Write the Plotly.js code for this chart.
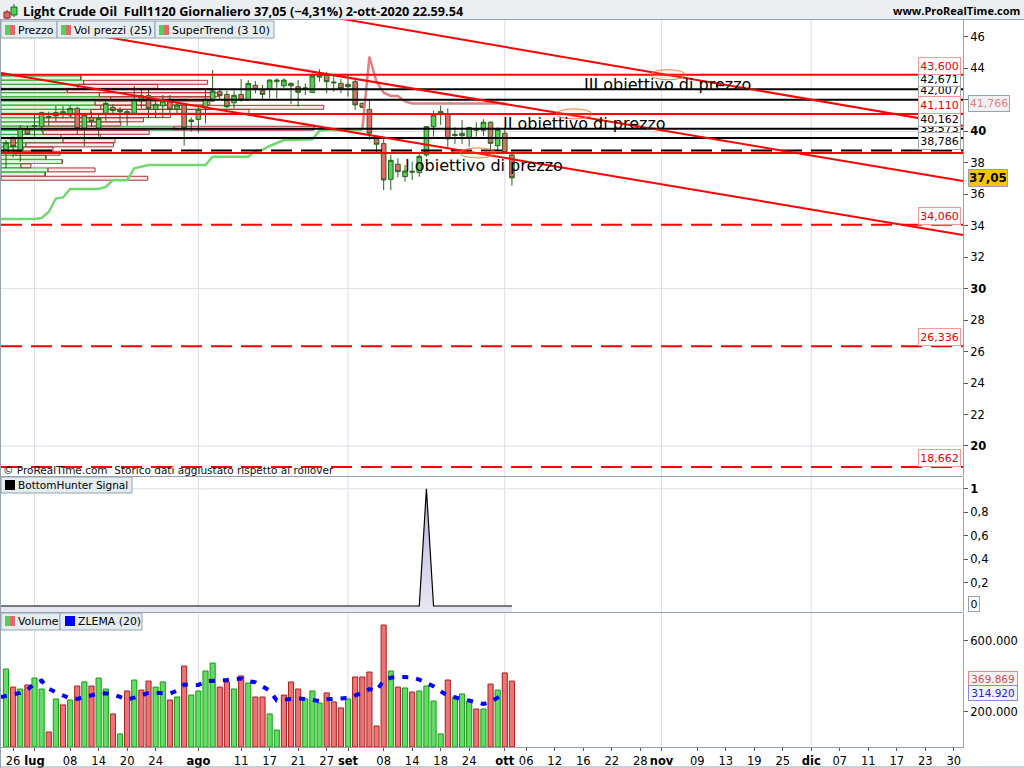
<!DOCTYPE html>
<html><head><meta charset="utf-8">
<script src="https://cdn.plot.ly/plotly-3.0.1.min.js"></script>
<style>html,body{margin:0;padding:0;background:#fff;overflow:hidden}#c{width:1024px;height:768px}</style>
</head><body><div id="c"></div>
<script>
// ---- candles (one row per trading day) ----
const opens =[38.65,39.62,38.71,40.09,40.32,40.30,40.89,41.19,41.10,41.04,41.46,40.19,40.89,40.19,41.15,41.53,41.36,41.15,41.15,41.93,42.27,41.40,41.63,41.95,41.42,41.67,40.62,40.76,41.53,41.93,42.52,42.35,41.82,42.35,41.99,42.93,42.59,42.67,43.16,42.90,43.05,42.84,42.69,42.48,43.45,43.58,43.14,43.05,42.99,43.16,41.78,41.40,39.54,39.22,36.95,37.91,37.12,37.40,37.38,38.50,40.30,41.15,41.10,39.81,39.88,39.62,40.07,40.07,40.58,39.09,39.88,38.50];
const highs =[39.45,39.66,40.40,40.34,41.04,41.25,41.25,41.61,41.61,41.67,41.57,41.15,41.25,41.04,41.89,41.74,41.53,41.36,42.88,42.73,42.73,41.93,42.31,42.31,41.82,41.78,40.89,41.67,42.63,43.90,42.73,42.59,42.59,43.33,43.26,43.20,42.95,43.31,43.37,43.37,43.12,43.26,43.05,43.69,43.94,43.79,43.58,43.33,43.58,43.37,41.83,42.00,39.56,39.50,38.50,38.29,37.86,38.08,38.71,40.34,41.32,41.64,41.47,40.26,40.72,40.30,40.58,40.77,40.62,40.26,40.26,38.56];
const lows  =[37.65,38.35,38.07,39.77,39.66,39.98,40.34,40.62,40.83,40.93,39.81,39.07,40.30,39.66,40.68,41.04,40.55,40.34,41.04,41.46,40.83,40.83,40.83,41.04,41.04,39.09,39.98,39.92,40.51,41.89,41.99,41.46,41.46,41.89,41.93,42.42,41.99,42.10,42.10,42.73,41.74,41.57,42.31,42.42,43.16,42.42,42.52,42.42,42.21,41.36,41.47,39.45,38.61,36.27,36.27,37.08,36.80,36.91,37.12,38.39,39.66,40.41,38.92,39.20,39.20,39.03,39.66,39.71,38.86,38.82,38.61,36.55];
const closes=[39.28,39.03,40.19,39.81,40.36,41.19,40.93,40.98,41.25,41.46,40.19,41.04,40.62,40.83,41.78,41.32,41.25,41.25,41.99,42.27,41.46,41.72,41.93,41.40,41.67,40.23,40.72,41.40,42.04,42.56,42.27,41.57,42.29,41.99,43.05,42.67,42.35,43.26,43.26,43.26,42.90,42.48,42.76,43.52,43.52,43.16,43.09,42.73,42.84,41.68,41.53,39.88,39.18,36.91,38.16,37.44,37.48,37.46,38.41,40.30,41.04,41.25,39.52,39.75,39.73,40.24,40.13,40.58,39.24,40.13,38.65,37.05];

// ---- SuperTrend ----
const superTrendUpX=[-0.7,0,1,2,3,4,5,6,7,8,9,10,11,12,13,14,15,16,17,18,19,20,21,22,23,24,25,26,27,28,29,30,31,32,33,34,35,36,37,38,39,40,41,42,43,44,45,46,47,48,49,50];
const superTrendUp=[34.43,34.43,34.43,34.43,34.43,34.43,34.49,34.87,35.73,35.80,36.34,36.34,36.34,36.34,36.34,36.47,36.89,36.89,36.89,37.65,37.76,37.86,37.86,37.86,37.86,37.86,37.86,37.86,37.86,37.86,38.39,38.39,38.39,38.39,38.39,38.39,38.77,38.82,39.07,39.28,39.45,39.45,39.45,39.45,39.49,40.04,40.09,40.09,40.09,40.09,40.09,40.09];
const superTrendDownX=[50,51,52,53,54,55,56,57,58,59,60,61,62,63,64,65,66,67,68,69,70];
const superTrendDown=[40.09,44.75,43.16,42.46,42.25,42.25,41.90,41.77,41.77,41.77,41.77,41.77,41.77,41.77,41.77,41.77,41.77,41.77,41.77,41.77,41.77];

// ---- price by volume, 25 rows from the top ----
const vpCenters=[43.39,43.12,42.86,42.59,42.33,42.06,41.80,41.53,41.27,41.00,40.73,40.47,40.20,39.94,39.67,39.41,39.14,38.88,38.61,38.35,38.08,37.81,37.55,37.28,37.02];
const vpBuy =[11.2,11.6,10.8,9.3,13.8,15.4,13.2,14,12.6,9.8,6,5.6,24.3,5.9,8.4,8.7,3.5,3.1,2.1,6.3,8.6,2.8,6.6,6.2,0];
const vpSell=[0,17.4,11.2,20.3,16.8,14,16.1,31.3,22.2,14,14,11.2,19.6,14.9,5.6,7.3,12.3,4.2,6.2,0,0,1.4,6.6,0,20.6];

// ---- levels ----
const redLevels=[43.6,41.11,38.63];
const blackLevels=[42.671,42.007,40.162,39.573];
const blackDashedLevels=[38.786];
const redDashedLevels=[34.06,26.336,18.662];
const tagOrder=[[42.007,"42,007","k"],[39.573,"39,573","k"],[40.162,"40,162","k"],[42.671,"42,671","k"],[38.786,"38,786","k"],[43.6,"43,600","r"],[41.11,"41,110","r"],[34.06,"34,060","r"],[26.336,"26,336","r"],[18.662,"18,662","r"]];

// ---- channel lines [x0,x1],[y0,y1] ----
const channelX=[[47.3,134.3],[13.2,134.3],[-0.7,134.3]];
const channelY=[[47.14,40.36],[46.06,36.85],[43.71,33.41]];

// ---- price targets ----
const targetLabels=["III obiettivo di prezzo","II obiettivo di prezzo","I obiettivo di prezzo"];
const targetX=[80.9,69.4,55.7];
const targetY=[43.01,40.53,37.86];
const targetEllipseX=[92.9,79.7,66.2];
const targetEllipseY=[43.6,41.11,38.63];

// ---- signal ----
const signalValues=[0,0,0,0,0,0,0,0,0,0,0,0,0,0,0,0,0,0,0,0,0,0,0,0,0,0,0,0,0,0,0,0,0,0,0,0,0,0,0,0,0,0,0,0,0,0,0,0,0,0,0,0,0,0,0,0,0,0,0,1,0,0,0,0,0,0,0,0,0,0,0,0];

// ---- volume (thousands) ----
const volumes=[441,339,328,351,390,328,85,272,238,266,345,368,345,390,328,187,74,317,379,322,373,339,368,266,283,458,294,317,430,475,339,368,328,402,362,283,283,187,96,294,368,328,272,317,249,306,255,221,272,396,396,424,119,690,430,339,334,311,317,345,260,74,379,283,300,260,215,215,356,322,419,373];
const volumeUp=[1,0,1,0,1,1,0,1,0,1,0,1,0,1,1,0,1,0,1,0,0,1,1,0,1,0,1,1,1,1,0,0,1,0,1,0,0,1,1,0,0,0,1,1,1,0,0,0,1,0,0,0,0,0,1,0,1,0,1,1,1,1,0,1,1,1,0,1,0,1,0,0];
const zlemaX=[-0.7,0,1,2,3,4,5,6,7,8,9,10,11,12,13,14,15,16,17,18,19,20,21,22,23,24,25,26,27,28,29,30,31,32,33,34,35,36,37,38,39,40,41,42,43,44,45,46,47,48,49,50,51,52,53,54,55,56,57,58,59,60,61,62,63,64,65,66,67,68,69,70];
const zlema=[283,290,298,306,324,358,375,330,309,290,275,272,283,290,302,304,298,283,268,279,294,306,307,306,302,319,353,351,351,372,377,377,379,385,387,372,366,343,319,264,268,272,275,272,264,260,270,273,277,277,292,306,328,317,377,392,396,396,394,381,364,343,315,290,281,273,264,253,243,255,279,315];

// ---- axis ticks ----
const xTickIndex=[1,4,9,13,17,21,27,33,37,41,45,48,53,57,61,65,70,73,77,81,85,89,92,97,101,105,109,113,117,121,125,129,133];
const xTickText=["26","<b>lug</b>","08","14","20","24","<b>ago</b>","11","17","21","27","<b>set</b>","08","14","18","24","<b>ott</b>","06","12","16","22","28","<b>nov</b>","09","13","19","25","<b>dic</b>","07","11","17","23","30"];
const monthIndex=[4,27,48,70,92,113];
const priceTicks=[46,44,42,40,38,36,34,32,30,28,26,24,22,20];
const priceTickText=["46","44","","<b>40</b>","38","36","34","32","<b>30</b>","28","26","24","22","<b>20</b>"];
const priceGrid=[40,30,20];
const signalTicks=[1,0.8,0.6,0.4,0.2];
const signalTickText=["<b>1</b>","0,8","0,6","0,4","0,2"];
const volumeTicks=[600,200];
const volumeTickText=["600.000","200.000"];

// ---- colours ----
const GREEN="#55cf55",RED="#e26a6a",WICK="#24641c",LRED="#ff0000",AXIS="#94a3ad",GRID="#dcdfe8";
const FONT="DejaVu Sans, Verdana, sans-serif";
const HEADFONT="Open Sans, DejaVu Sans, sans-serif";

const W=1024,H=768;
const px=x=>x/W, py=y=>1-y/H;
const idx=volumes.map((_,i)=>i);
const XMIN=-0.7,XMAX=134.3;

const traces=[];
// price-by-volume histogram
traces.push({type:'bar',orientation:'h',y:vpCenters,x:vpBuy,base:vpBuy.map(()=>XMIN),width:vpCenters.map(()=>0.25),
  marker:{color:'rgba(200,238,200,0.55)',line:{color:'#3aa83a',width:1}},xaxis:'x',yaxis:'y',hoverinfo:'skip'});
traces.push({type:'bar',orientation:'h',y:vpCenters,x:vpSell,base:vpBuy.map(v=>v+XMIN),width:vpCenters.map(()=>0.25),
  marker:{color:'rgba(250,222,222,0.6)',line:{color:'#aa3030',width:1}},xaxis:'x',yaxis:'y',hoverinfo:'skip'});
// candles
traces.push({type:'candlestick',x:idx,open:opens,high:highs,low:lows,close:closes,whiskerwidth:0,
  increasing:{fillcolor:GREEN,line:{color:WICK,width:1}},decreasing:{fillcolor:RED,line:{color:WICK,width:1}},xaxis:'x',yaxis:'y',hoverinfo:'skip'});
// SuperTrend
traces.push({type:'scatter',mode:'lines',x:superTrendUpX,y:superTrendUp,line:{color:'#6fd96f',width:2.5},xaxis:'x',yaxis:'y',hoverinfo:'skip'});
traces.push({type:'scatter',mode:'lines',x:superTrendDownX,y:superTrendDown,line:{color:'#e08080',width:2.5},xaxis:'x',yaxis:'y',hoverinfo:'skip'});
// levels
function level(v,color,dash){traces.push({type:'scatter',mode:'lines',x:[XMIN,XMAX],y:[v,v],line:{color:color,width:2,dash:dash||'solid'},xaxis:'x',yaxis:'y',hoverinfo:'skip'});}
blackLevels.forEach(v=>level(v,'#000000'));
blackDashedLevels.forEach(v=>level(v,'#000000','21px,9px'));
redLevels.forEach(v=>level(v,LRED));
redDashedLevels.forEach(v=>level(v,LRED,'21px,9px'));
channelX.forEach((xs,k)=>traces.push({type:'scatter',mode:'lines',x:xs,y:channelY[k],line:{color:LRED,width:2},xaxis:'x',yaxis:'y',hoverinfo:'skip'}));
// signal panel
const sigX=[-0.7].concat(idx);
const sigY=[0].concat(signalValues);
traces.push({type:'scatter',mode:'lines',x:sigX,y:sigX.map(()=>-0.05),line:{width:0,color:'rgba(0,0,0,0)'},xaxis:'x',yaxis:'y2',hoverinfo:'skip'});
traces.push({type:'scatter',mode:'lines',x:sigX,y:sigY,line:{color:'#000',width:1.2},fill:'tonexty',fillcolor:'#dcdcec',
  fillgradient:{type:'vertical',colorscale:[[0,'#e8e8f3'],[0.5,'#cfcfe6'],[1,'#b4b4d6']]},xaxis:'x',yaxis:'y2',hoverinfo:'skip'});
// volume
traces.push({type:'bar',x:idx,y:volumes,width:idx.map(()=>0.72),
  marker:{color:volumeUp.map(u=>u?'#62dc62':'#ec7474'),line:{color:volumeUp.map(u=>u?'#169a16':'#a82020'),width:1}},xaxis:'x',yaxis:'y3',hoverinfo:'skip'});
traces.push({type:'scatter',mode:'lines',x:zlemaX,y:zlema,line:{color:'#0000ff',width:4,dash:'6px,8px'},xaxis:'x',yaxis:'y3',hoverinfo:'skip'});

const shapes=[];
function rect(x0,y0,x1,y1,fill,line,layer){shapes.push({type:'rect',xref:'paper',yref:'paper',x0:px(x0),x1:px(x1),y0:py(y0),y1:py(y1),fillcolor:fill,line:{color:line||fill,width:line?1:0},layer:layer||'above'});}
function hline(y,x0,x1,c,w){shapes.push({type:'line',xref:'paper',yref:'paper',x0:px(x0),x1:px(x1),y0:py(y),y1:py(y),line:{color:c,width:w||1},layer:'above'});}
monthIndex.forEach(m=>shapes.push({type:'line',xref:'x',yref:'paper',x0:m,x1:m,y0:py(747),y1:py(20),line:{color:GRID,width:1},layer:'below'}));
priceGrid.forEach(v=>shapes.push({type:'line',xref:'paper',yref:'y',x0:px(1),x1:px(963),y0:v,y1:v,line:{color:GRID,width:1},layer:'below'}));
shapes.push({type:'line',xref:'paper',yref:'y2',x0:px(1),x1:px(963),y0:1,y1:1,line:{color:GRID,width:1},layer:'below'});
targetEllipseX.forEach((x,k)=>shapes.push({type:'circle',xref:'x',yref:'y',x0:x-2.5,x1:x+2.5,y0:targetEllipseY[k]-0.32,y1:targetEllipseY[k]+0.32,line:{color:'rgba(240,120,50,0.9)',width:1},fillcolor:'rgba(255,170,110,0.15)',layer:'above'}));
rect(0,0,1024,19,'#eceff1');
hline(19.5,0,1024,AXIS);
hline(476.5,0,963,AXIS);
hline(612.5,0,963,AXIS);
hline(767,0,1024,AXIS);
shapes.push({type:'line',xref:'paper',yref:'paper',x0:px(0.5),x1:px(0.5),y0:py(768),y1:py(19),line:{color:AXIS,width:1},layer:'above'});
shapes.push({type:'line',xref:'paper',yref:'paper',x0:px(7),x1:px(7),y0:py(19),y1:py(10),line:{color:'#8a1e1e',width:1},layer:'above'});
rect(4,12,10,18,RED,'#8a1e1e');
shapes.push({type:'line',xref:'paper',yref:'paper',x0:px(14),x1:px(14),y0:py(17),y1:py(4),line:{color:'#1d6b1d',width:1},layer:'above'});
rect(11,7,17,15,GREEN,'#1d6b1d');
function legendBox(x0,y0,x1,y1){rect(x0,y0,x1,y1,'#e4edf2',AXIS);}
function pair(x,y){rect(x,y,x+5,y+10,GREEN);rect(x+5,y,x+10,y+10,RED);}
legendBox(1,21,57,38);legendBox(57,21,155,38);legendBox(155,21,274,38);
pair(5,25);pair(61,25);pair(159,25);
legendBox(1,477,132,493);rect(5,480,15,490,'#000');
legendBox(1,613,60,630);legendBox(60,613,142,630);pair(5,616);rect(65,616,75,626,'#0000ff');

const ann=[];
function text(x,y,t,size,anchor,color,fam){ann.push({xref:'paper',yref:'paper',x:px(x),y:py(y),text:t,showarrow:false,xanchor:anchor||'left',yanchor:'middle',font:{family:fam||FONT,size:size,color:color||'#000'}});}
text(21,11,"<b>Light Crude Oil  Full1120 Giornaliero 37,05 (−4,31%) 2-ott-2020 22.59.54</b>",12.7,'left','#000',HEADFONT);
text(1022,11,"<b>www.ProRealTime.com</b>",11,'right','#000',HEADFONT);
text(16,30,"Prezzo",10.9);text(72,30,"Vol prezzi (25)",10.9);text(170,30,"SuperTrend (3 10)",10.9);
text(16,485,"BottomHunter Signal",10.5);
text(16,621,"Volume",10.9);text(76,621,"ZLEMA (20)",10.9);
text(1,470,"© ProRealTime.com  Storico dati aggiustato rispetto al rollover",10.5,'left','#111');
targetLabels.forEach((t,k)=>ann.push({xref:'x',yref:'y',x:targetX[k],y:targetY[k],text:t,showarrow:false,xanchor:'left',yanchor:'middle',font:{family:FONT,size:16,color:'#000'}}));
tagOrder.forEach(([v,t,c])=>ann.push({xref:'paper',yref:'y',x:px(917.5),y:v,yshift:c==='k'&&v!==38.786?2:0,text:t,showarrow:false,xanchor:'left',yanchor:'bottom',width:39,height:c==='k'&&v!==38.786?11:14,align:'center',
  bgcolor:'#fff',bordercolor:c==='r'?'#f29a9a':'#a0a8b0',borderwidth:1,borderpad:1,font:{family:FONT,size:11,color:c==='r'?'#e00000':'#000'}}));
ann.push({xref:'paper',yref:'y',x:px(968),y:41.766,text:"41,766",showarrow:false,xanchor:'left',yanchor:'middle',width:38,height:13,bgcolor:'#f1f1f3',bordercolor:AXIS,borderwidth:1,borderpad:1,font:{family:FONT,size:11,color:'#e88080'}});
ann.push({xref:'paper',yref:'y',x:px(968),y:37.05,text:"<b>37,05</b>",showarrow:false,xanchor:'left',yanchor:'middle',width:36,height:14,bgcolor:'#f7c400',bordercolor:AXIS,borderwidth:1,borderpad:1,font:{family:FONT,size:12,color:'#000'}});
ann.push({xref:'paper',yref:'y2',x:px(968),y:0.02,text:"0",showarrow:false,xanchor:'left',yanchor:'middle',width:8,height:12,bgcolor:'#fff',bordercolor:AXIS,borderwidth:1,font:{family:FONT,size:11,color:'#000'}});
ann.push({xref:'paper',yref:'paper',x:px(968),y:py(678.5),text:"369.869",showarrow:false,xanchor:'left',yanchor:'middle',width:46,height:12,bgcolor:'#f6f3f3',bordercolor:'#e08a8a',borderwidth:1,font:{family:FONT,size:10.5,color:'#d05050'}});
ann.push({xref:'paper',yref:'paper',x:px(968),y:py(692.5),text:"314.920",showarrow:false,xanchor:'left',yanchor:'middle',width:46,height:12,bgcolor:'#f3f3fb',bordercolor:'#8888e0',borderwidth:1,font:{family:FONT,size:10.5,color:'#2222dd'}});

const yBase={side:'right',anchor:'x',showgrid:false,zeroline:false,showline:true,linecolor:AXIS,linewidth:1,ticks:'outside',ticklen:4,tickcolor:'#555',tickfont:{family:FONT,size:11.5,color:'#000'},tickmode:'array',fixedrange:true};
const layout={width:W,height:H,margin:{l:0,r:0,t:0,b:0,pad:0},paper_bgcolor:'#fff',plot_bgcolor:'#fff',showlegend:false,barmode:'overlay',boxgap:0.05,boxgroupgap:0.32,
  xaxis:{domain:[px(1),px(963)],range:[XMIN,XMAX],rangeslider:{visible:false},anchor:'y3',showgrid:false,zeroline:false,showline:true,linecolor:AXIS,ticks:'outside',ticklen:3,tickcolor:'#555',tickmode:'array',tickvals:xTickIndex,ticktext:xTickText,tickangle:0,tickfont:{family:FONT,size:11.5,color:'#000'}},
  yaxis:Object.assign({},yBase,{domain:[py(476),py(20)],range:[18.09,47.08],tickvals:priceTicks,ticktext:priceTickText}),
  yaxis2:Object.assign({},yBase,{domain:[py(612),py(477)],range:[-0.051,1.1],tickvals:signalTicks,ticktext:signalTickText}),
  yaxis3:Object.assign({},yBase,{domain:[py(747),py(613)],range:[0,758],tickvals:volumeTicks,ticktext:volumeTickText}),
  shapes:shapes,annotations:ann};
Plotly.newPlot('c',traces,layout,{staticPlot:true,displayModeBar:false});
</script></body></html>
